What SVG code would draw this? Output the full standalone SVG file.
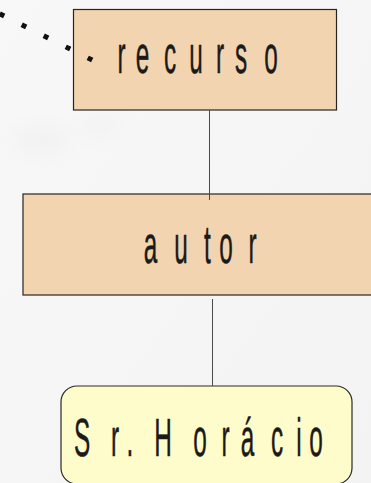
<svg xmlns="http://www.w3.org/2000/svg" width="371" height="483" viewBox="0 0 371 483">
  <defs>
    <linearGradient id="bg" x1="0" y1="0" x2="1" y2="1">
      <stop offset="0" stop-color="#f8f8f8"/>
      <stop offset="1" stop-color="#f3f3f3"/>
    </linearGradient>
    <filter id="soft" x="-50%" y="-50%" width="200%" height="200%">
      <feGaussianBlur stdDeviation="10"/>
    </filter>
  </defs>
  <style>
    .box { fill: #f3d4b1; stroke: #2a2420; stroke-width: 1.2; }
    .leaf { fill: #fffccb; stroke: #2a2a22; stroke-width: 1.2; }
    .lbl { font-family: "Liberation Sans", Arial, sans-serif; font-size: 53px; fill: #1c1a18; stroke: #1c1a18; stroke-width: 0.5; text-anchor: middle; }
    .link { stroke: #4a4a4a; stroke-width: 1; fill: none; }
    .dots { stroke: #111; stroke-width: 5; fill: none; stroke-dasharray: 5 19.6; }
  </style>

  <!-- backdrop -->
  <rect width="371" height="483" fill="url(#bg)"/>
  <g fill="#e8e8e8" opacity="0.35" filter="url(#soft)">
    <ellipse cx="40" cy="140" rx="30" ry="14"/>
    <ellipse cx="120" cy="40" rx="26" ry="12"/>
    <ellipse cx="100" cy="125" rx="22" ry="10"/>
  </g>

  <!-- nodes -->
  <g id="recurso">
    <rect class="box" x="73.5" y="9.5" width="263" height="100.5"/>
    <text class="lbl" transform="scale(0.46 1)" y="73" x="264.1 309.8 369.6 426.1 478.3 523.9 589.1">recurso</text>
  </g>
  <g id="autor">
    <rect class="box" x="23" y="194" width="380" height="101"/>
    <text class="lbl" transform="scale(0.46 1)" y="263" x="327.2 393.5 451.1 491.3 548.9">autor</text>
  </g>
  <g id="sr-horacio">
    <rect class="leaf" x="61" y="386" width="291" height="98" rx="16" ry="16"/>
    <text class="lbl" transform="scale(0.46 1)" y="456" x="178.3 250 282.6 315.2 354.3 434.8 490.2 538 602.2 650 687">Sr. Horácio</text>
  </g>

  <!-- connectors -->
  <g id="connectors">
    <path class="dots" d="M92.2 60.1 L-20 4"/>
    <line class="link" x1="209.5" y1="110" x2="209.5" y2="200"/>
    <line class="link" x1="212.5" y1="299" x2="212.5" y2="386"/>
  </g>
</svg>
